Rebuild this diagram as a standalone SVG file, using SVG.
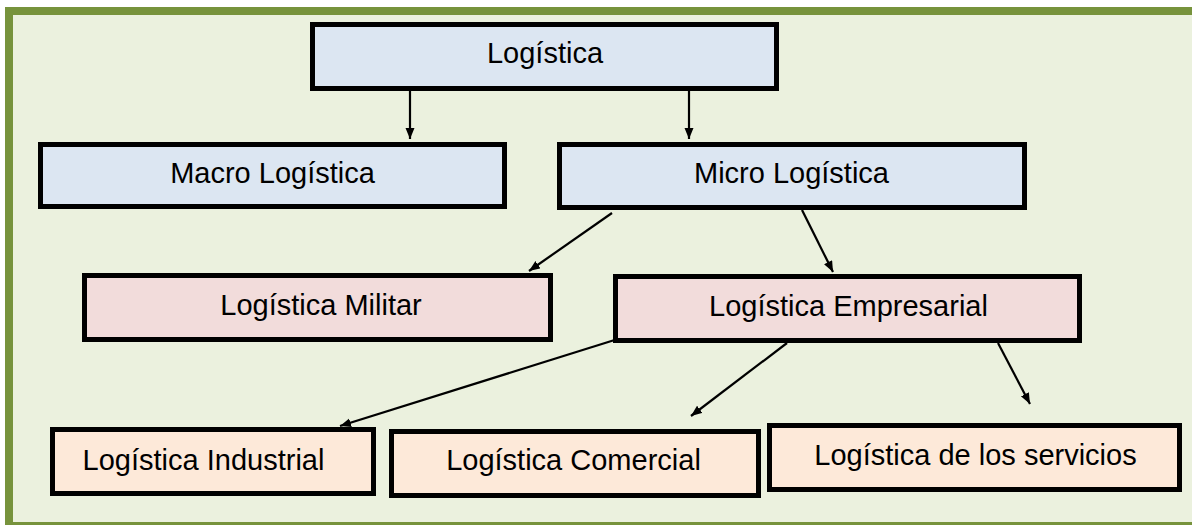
<svg xmlns="http://www.w3.org/2000/svg" width="1192" height="525" viewBox="0 0 1192 525">
  <style>
    .box { stroke: #000; stroke-width: 5; }
    .l1 { fill: #DCE6F2; }
    .l2 { fill: #F2DCDB; }
    .l3 { fill: #FDE9D9; }
    .lbl { font-family: "Liberation Sans", Arial, sans-serif; font-size: 29px; fill: #000; text-anchor: middle; }
    .edge { stroke: #000; stroke-width: 2.2; fill: none; marker-end: url(#arrow); }
    .frame { fill: #77933C; }
  </style>
  <defs>
    <marker id="arrow" markerUnits="userSpaceOnUse" markerWidth="12" markerHeight="10" refX="11" refY="4.5" orient="auto">
      <path d="M0,0 L11,4.5 L0,9 z" fill="#000"/>
    </marker>
  </defs>

  <!-- page, panel and green frame bands (top, left, bottom) -->
  <rect x="0" y="0" width="1192" height="525" fill="#FFFFFF"/>
  <rect x="5" y="7" width="1187" height="518" fill="#EBF1DE"/>
  <rect class="frame" x="5" y="7" width="1187" height="8"/>
  <rect class="frame" x="5" y="7" width="8" height="518"/>
  <rect class="frame" x="5" y="522" width="1187" height="3"/>

  <!-- connectors -->
  <g id="connectors">
    <line class="edge" x1="410" y1="91" x2="410" y2="139"/>
    <line class="edge" x1="689" y1="91" x2="689" y2="139"/>
    <line class="edge" x1="612" y1="213" x2="529" y2="271"/>
    <line class="edge" x1="802" y1="210" x2="833" y2="272"/>
    <line class="edge" x1="621" y1="338" x2="340" y2="426"/>
    <line class="edge" x1="787" y1="343" x2="691" y2="416"/>
    <line class="edge" x1="998" y1="343" x2="1030" y2="404"/>
  </g>

  <!-- nodes -->
  <g id="logistica">
    <rect class="box l1" x="312.5" y="24.5" width="464" height="64"/>
    <text class="lbl" x="545" y="63">Logística</text>
  </g>
  <g id="macro">
    <rect class="box l1" x="40.5" y="144.5" width="464" height="62"/>
    <text class="lbl" x="272.5" y="183">Macro Logística</text>
  </g>
  <g id="micro">
    <rect class="box l1" x="559.5" y="144.5" width="465" height="63"/>
    <text class="lbl" x="791.5" y="183">Micro Logística</text>
  </g>
  <g id="militar">
    <rect class="box l2" x="84.5" y="275.5" width="466" height="64"/>
    <text class="lbl" x="321" y="315">Logística Militar</text>
  </g>
  <g id="empresarial">
    <rect class="box l2" x="615.5" y="276.5" width="464" height="64"/>
    <text class="lbl" x="848.5" y="316">Logística Empresarial</text>
  </g>
  <g id="industrial">
    <rect class="box l3" x="52.5" y="429.5" width="321" height="64"/>
    <text class="lbl" x="203.5" y="470">Logística Industrial</text>
  </g>
  <g id="comercial">
    <rect class="box l3" x="391.5" y="431.5" width="367" height="64"/>
    <text class="lbl" x="573.5" y="470">Logística Comercial</text>
  </g>
  <g id="servicios">
    <rect class="box l3" x="769.5" y="425.5" width="410" height="64"/>
    <text class="lbl" x="975.5" y="465">Logística de los servicios</text>
  </g>
</svg>
